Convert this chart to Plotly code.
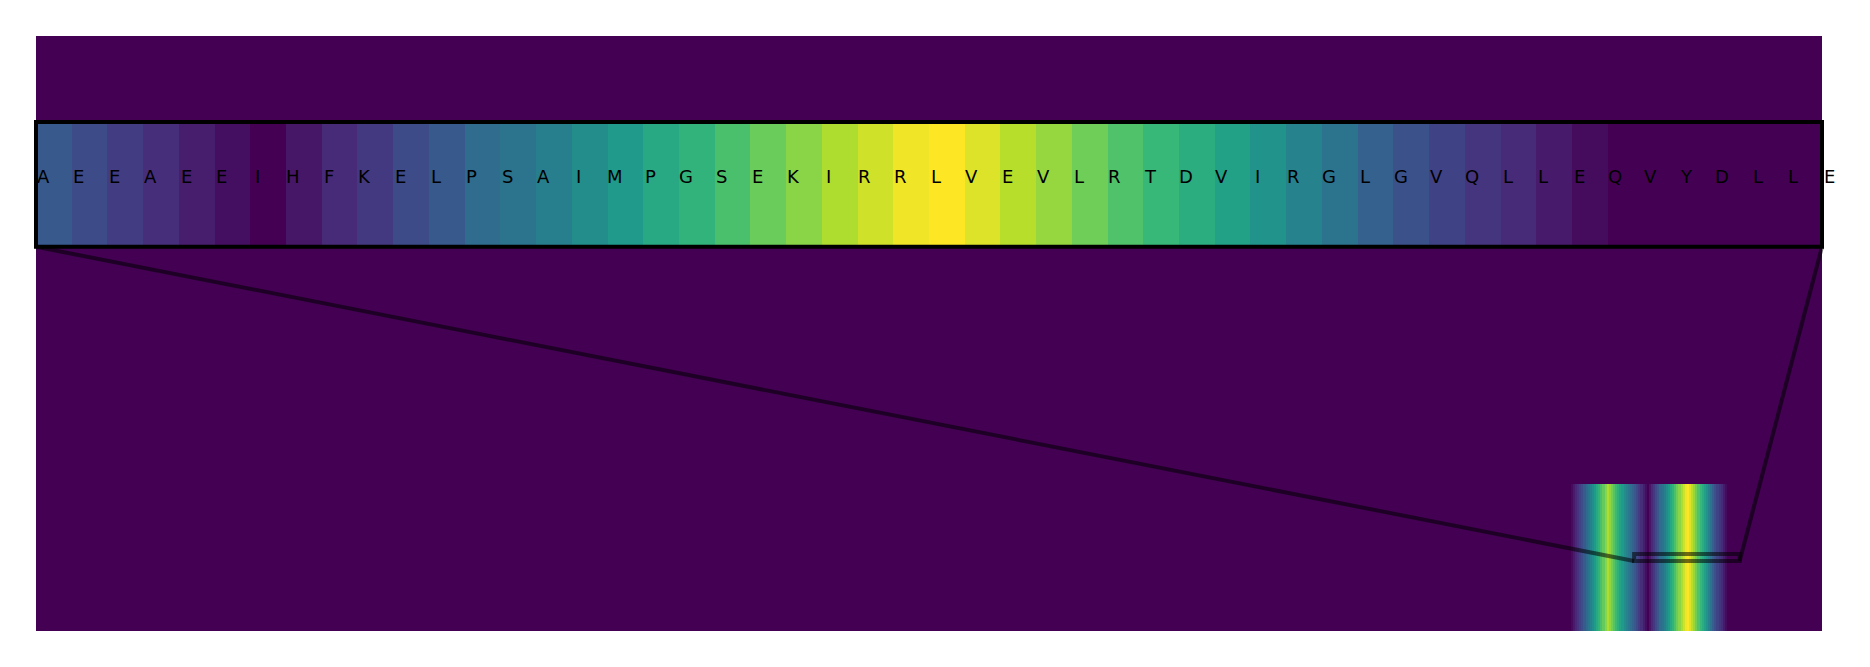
import numpy as np
import plotly.graph_objects as go

# ---------------- data ----------------
residues = list("AEEAEEIHFKELPSAIMPGSEKIRRLVEVLRTDVIRGLGVQLLEQVYDLLE")

# scores of the 50 zoomed residues (inset strip)
inset_scores = [0.28, 0.23, 0.18, 0.13, 0.08, 0.04, 0.00, 0.06, 0.12, 0.17,
                0.23, 0.28, 0.35, 0.38, 0.43, 0.49, 0.54, 0.60, 0.65, 0.71,
                0.77, 0.82, 0.88, 0.93, 0.98, 1.00, 0.95, 0.89, 0.84, 0.78,
                0.72, 0.67, 0.62, 0.57, 0.51, 0.45, 0.38, 0.31, 0.25, 0.20,
                0.15, 0.12, 0.07, 0.03, 0.00, 0.00, 0.00, 0.00, 0.00, 0.00]

# first band of the overview, the part left of the zoom window
band1_head = [0.03, 0.07, 0.11, 0.15, 0.20, 0.24, 0.29, 0.34, 0.39, 0.44,
              0.49, 0.54, 0.60, 0.65, 0.71, 0.76, 0.82, 0.88, 0.83, 0.78,
              0.73, 0.68, 0.63, 0.58, 0.54, 0.49, 0.45, 0.40, 0.36, 0.32]

n_cols = 846          # positions in the overview map
n_rows = 85           # rows in the overview map
band_col_start = 727  # first column of band1_head
zoom_col = 757        # first column of the zoom window
band_row_start = 64   # first row carrying the signal
zoom_row = 74         # row shown in the inset

# ---------------- build overview matrix ----------------
profile = np.zeros(n_cols)
profile[band_col_start:band_col_start + len(band1_head)] = band1_head
profile[zoom_col:zoom_col + len(inset_scores)] = inset_scores
z_main = np.zeros((n_rows, n_cols))
z_main[band_row_start:, :] = profile

W, H = 1870, 667
ml, mr, mt, mb = 36, 48, 36, 36
ph = H - mt - mb
inset_top_px, inset_bot_px = 122, 246.7
y2_dom = [1 - (inset_bot_px - mt) / ph, 1 - (inset_top_px - mt) / ph]

fig = go.Figure()
fig.add_trace(go.Heatmap(
    z=z_main, x0=0.5, dx=1, y0=0.5, dy=1,
    colorscale="Viridis", zmin=0, zmax=1, showscale=False,
    hoverinfo="skip", xaxis="x", yaxis="y"))
fig.add_trace(go.Heatmap(
    z=[inset_scores], x0=0.5, dx=1, y0=0.5, dy=1,
    colorscale="Viridis", zmin=0, zmax=1, showscale=False,
    hoverinfo="skip", xaxis="x2", yaxis="y2"))

noax = dict(showticklabels=False, ticks="", showgrid=False, zeroline=False,
            showline=False)
fig.update_layout(
    width=W, height=H,
    margin=dict(l=ml, r=mr, t=mt, b=mb, pad=0),
    paper_bgcolor="white", plot_bgcolor="white",
    xaxis=dict(range=[0, n_cols], domain=[0, 1], **noax),
    yaxis=dict(range=[n_rows, 0], domain=[0, 1], **noax),
    xaxis2=dict(range=[0, len(inset_scores)], domain=[0, 1], anchor="y2", **noax),
    yaxis2=dict(range=[0, 1], domain=y2_dom, anchor="x2", **noax),
    showlegend=False,
)

# residue letters (paper coords derived from the inset x scale so the
# trailing letter beyond the strip stays visible)
n_in = len(inset_scores)
label_y = y2_dom[0] + 0.56 * (y2_dom[1] - y2_dom[0])
for i, r in enumerate(residues):
    fig.add_annotation(x=(i + 0.2) / n_in, y=label_y, xref="paper", yref="paper",
                       text=r, showarrow=False, xanchor="center", yanchor="middle",
                       font=dict(family="DejaVu Sans", size=18, color="black"))

edge = "rgba(0,0,0,0.55)"
# zoom window in overview
zc1 = zoom_col + n_in
fig.add_shape(type="rect", xref="x", yref="y", x0=zoom_col, x1=zc1,
              y0=zoom_row, y1=zoom_row + 1, line=dict(color=edge, width=4))
# connectors from inset corners to zoom window corners
px_l = zoom_col / n_cols
px_r = zc1 / n_cols
py_b = 1 - (zoom_row + 1) / n_rows
fig.add_shape(type="line", xref="paper", yref="paper", x0=0, y0=y2_dom[0],
              x1=px_l, y1=py_b, line=dict(color=edge, width=4))
fig.add_shape(type="line", xref="paper", yref="paper", x0=1, y0=y2_dom[0],
              x1=px_r, y1=py_b, line=dict(color=edge, width=4))
# inset frame
fig.add_shape(type="rect", xref="x2 domain", yref="y2 domain", x0=0, x1=1,
              y0=0, y1=1, line=dict(color="black", width=4))

fig.write_html("out.html")
